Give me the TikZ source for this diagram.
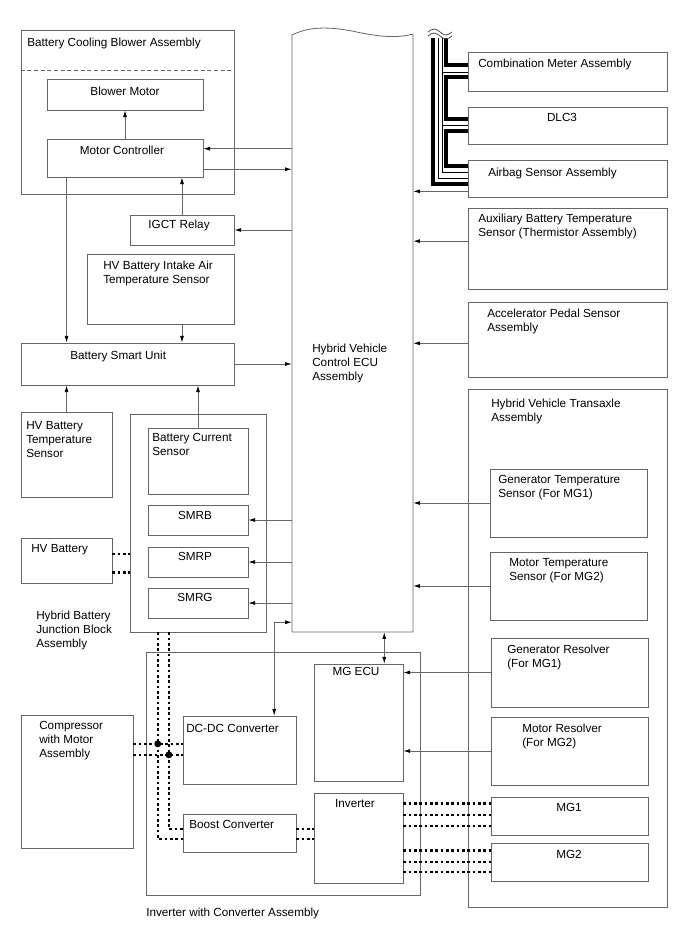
\documentclass[tikz,border=0pt]{standalone}
\usepackage{fontspec}
\setmainfont{Liberation Sans}
\usetikzlibrary{arrows.meta,calc,fit}

\tikzset{
    blk/.style={
      draw=black!60,
      line width=0.6pt,
      inner sep=0pt
    },
    lbl/.style={
      font=\fontsize{8.8}{10.5}\selectfont,
      inner sep=0pt,
      align=left,
      anchor=north west
    },
    lblc/.style={
      lbl,
      align=center,
      anchor=north
    },
    sig/.style={
      draw=black!60,
      line width=0.6pt,
      -{Latex[length=5pt,width=3pt,color=black]}
    },
    sig both/.style={
      sig,
      {Latex[length=5pt,width=3pt,color=black]}-{Latex[length=5pt,width=3pt,color=black]}
    },
    pwr/.style={
      line width=1.9pt,
      dash pattern=on 1.9pt off 2.1pt
    },
    bus thick/.style={
      line width=2.3pt
    },
    bus thin/.style={
      line width=0.6pt
    }
  }

\begin{document}
\begin{tikzpicture}[x=0.75pt,y=-0.75pt]
      \useasboundingbox (0,0) rectangle (688,949);

      % ECU 本体
      \node[fit={(292,35) (413,632)}, inner sep=0pt] (ecu) {};
      \draw[black!60, line width=0.6pt] (292,35) .. controls (310,26) and (330,27) .. (352,31)
        .. controls (375,36) and (395,39) .. (413,34) -- (413,632) -- (292,632) -- cycle;
      \node[lbl] (ecuT) at (312,343.5) {Hybrid Vehicle\\Control ECU\\Assembly};

      % 左上：ブロワ
      \node[blk, fit={(21,30) (234,194)}] (cool) {};
      \draw[black!60, line width=0.6pt, dash pattern=on 3pt off 2pt] (cool.west |- 0,70) -- (cool.east |- 0,70);
      \node[lbl] (coolT) at (27,37.5) {Battery Cooling Blower Assembly};
      \node[blk, fit={(47,79) (203,110)}] (bm) {};
      \node[lblc] (bmT) at (125,86.5) {Blower Motor};
      \node[blk, fit={(47,139) (203,177)}] (mc) {};
      \node[lblc] (mcT) at (122,145.5) {Motor Controller};
      \node[blk, fit={(130,215) (234,245)}] (igct) {};
      \node[lblc] (igctT) at (179,219.5) {IGCT Relay};
      \node[blk, fit={(87,254) (234,324)}] (intake) {};
      \node[lbl] (intakeT) at (103,260.5) {HV Battery Intake Air\\Temperature Sensor};
      \node[blk, fit={(21,343) (234,385)}] (bsu) {};
      \node[lbl] (bsuT) at (70,350.5) {Battery Smart Unit};
      \node[blk, fit={(21,412) (112,497)}] (hvts) {};
      \node[lbl] (hvtsT) at (26,421.5) {HV Battery\\Temperature\\Sensor};

      % ジャンクションブロック
      \node[blk, fit={(130,414) (266,632)}] (jb) {};
      \node[blk, fit={(148,428) (248,494)}] (bcs) {};
      \node[lbl] (bcsT) at (152,433.5) {Battery Current\\Sensor};
      \node[blk, fit={(148,505) (248,535)}] (smrb) {};
      \node[lblc] (smrbT) at (195,511.5) {SMRB};
      \node[blk, fit={(148,547) (248,577)}] (smrp) {};
      \node[lblc] (smrpT) at (195,552.5) {SMRP};
      \node[blk, fit={(148,588) (248,618)}] (smrg) {};
      \node[lblc] (smrgT) at (195,593.5) {SMRG};
      \node[blk, fit={(21,538) (112,583)}] (hvb) {};
      \node[lbl] (hvbT) at (31,544.5) {HV Battery};
      \node[lbl] (jbT) at (36,610.5) {Hybrid Battery\\Junction Block\\Assembly};

      % インバータ
      \node[blk, fit={(146,652) (420,895)}] (inva) {};
      \node[lbl] (invaT) at (146,907.5) {Inverter with Converter Assembly};
      \node[blk, fit={(314,664) (403,781)}] (mgecu) {};
      \node[lblc] (mgecuT) at (356,667.5) {MG ECU};
      \node[blk, fit={(314,793) (403,883)}] (inv) {};
      \node[lblc] (invT) at (355,799.5) {Inverter};
      \node[blk, fit={(183,716) (296,784)}] (dcdc) {};
      \node[lbl] (dcdcT) at (186,724.5) {DC-DC Converter};
      \node[blk, fit={(183,814) (296,852)}] (boost) {};
      \node[lbl] (boostT) at (189,820.5) {Boost Converter};
      \node[blk, fit={(21,715) (133,848)}] (comp) {};
      \node[lbl] (compT) at (39,721.5) {Compressor\\with Motor\\Assembly};

      % 右側
      \node[blk, fit={(468,52) (667,91)}] (cma) {};
      \node[lbl] (cmaT) at (478,58.5) {Combination Meter Assembly};
      \node[blk, fit={(468,107) (667,144)}] (dlc) {};
      \node[lblc] (dlcT) at (562,113.5) {DLC3};
      \node[blk, fit={(468,160) (667,197)}] (abg) {};
      \node[lbl] (abgT) at (488,167.5) {Airbag Sensor Assembly};
      \node[blk, fit={(468,208) (667,289)}] (aux) {};
      \node[lbl] (auxT) at (478,213.5) {Auxiliary Battery Temperature\\Sensor (Thermistor Assembly)};
      \node[blk, fit={(468,302) (667,377)}] (aps) {};
      \node[lbl] (apsT) at (487,308.5) {Accelerator Pedal Sensor\\Assembly};
      \node[blk, fit={(468,389) (667,907)}] (hvt) {};
      \node[lbl] (hvtT) at (491,398.5) {Hybrid Vehicle Transaxle\\Assembly};
      \node[blk, fit={(490,469) (647,537)}] (gts) {};
      \node[lbl] (gtsT) at (498,475.5) {Generator Temperature\\Sensor (For MG1)};
      \node[blk, fit={(490,552) (647,620)}] (mts) {};
      \node[lbl] (mtsT) at (509,558.5) {Motor Temperature\\Sensor (For MG2)};
      \node[blk, fit={(491,638) (648,707)}] (gr) {};
      \node[lbl] (grT) at (507,644.5) {Generator Resolver\\(For MG1)};
      \node[blk, fit={(491,717) (648,785)}] (mr) {};
      \node[lbl] (mrT) at (522,723.5) {Motor Resolver\\(For MG2)};
      \node[blk, fit={(491,797) (648,835)}] (mg1) {};
      \node[lblc] (mg1T) at (569,803.5) {MG1};
      \node[blk, fit={(491,843) (648,881)}] (mg2) {};
      \node[lblc] (mg2T) at (569,850.5) {MG2};

      % 信号線の端点
      \coordinate (mc in) at ($(mc.north east)!0.26!(mc.south east)$);
      \coordinate (mc out) at ($(mc.north east)!0.79!(mc.south east)$);
      \coordinate (abg p) at ($(abg.north west)!0.84!(abg.south west)$);
      \coordinate (aux p) at ($(aux.north west)!0.41!(aux.south west)$);
      \coordinate (aps p) at ($(aps.north west)!0.55!(aps.south west)$);
      \coordinate (mgecu p) at ($(mgecu.north west)!0.787!(mgecu.north east)$);
      \coordinate (dcdc p) at ($(dcdc.north west)!0.805!(dcdc.north east)$);
      \coordinate (ecu low) at ([yshift=7.5pt]ecu.south west);

      % 信号線
      \draw[sig] (mc in -| ecu.west) -- (mc in);
      \draw[sig] (mc out) -- (mc out -| ecu.west);
      \draw[sig] (igct.east -| ecu.west) -- (igct.east);
      \draw[sig] (bsu.east) -- (bsu.east -| ecu.west);
      \draw[sig] (smrb.east -| ecu.west) -- (smrb.east);
      \draw[sig] (smrp.east -| ecu.west) -- (smrp.east);
      \draw[sig] (smrg.east -| ecu.west) -- (smrg.east);
      \draw[sig] (abg p) -- (abg p -| ecu.east);
      \draw[sig] (aux p) -- (aux p -| ecu.east);
      \draw[sig] (aps p) -- (aps p -| ecu.east);
      \draw[sig] (gts.west) -- (gts.west -| ecu.east);
      \draw[sig] (mts.west) -- (mts.west -| ecu.east);
      \draw[sig] (gr.west) -- (gr.west -| mgecu.east);
      \draw[sig] (mr.west) -- (mr.west -| mgecu.east);
      \draw[sig] (mc.north) -- (bm.south);
      \draw[sig] (igct.north) -- (igct.north |- mc.south);
      \draw[sig] (mc.south -| hvts.north) -- (bsu.north -| hvts.north);
      \draw[sig] (intake.south -| igct.north) -- (bsu.north -| igct.north);
      \draw[sig] (hvts.north) -- (hvts.north |- bsu.south);
      \draw[sig] (bcs.north) -- (bcs.north |- bsu.south);
      \draw[sig both] (mgecu p) -- (mgecu p |- ecu.south);
      \draw[sig both] (dcdc p) |- (ecu low);

      % 高電圧線の端点
      \coordinate (hvb p1) at ($(hvb.north east)!0.36!(hvb.south east)$);
      \coordinate (hvb p2) at ($(hvb.north east)!0.76!(hvb.south east)$);
      \coordinate (jb d1) at ($(jb.south west)!0.206!(jb.south east)$);
      \coordinate (jb d2) at ($(jb.south west)!0.287!(jb.south east)$);
      \coordinate (bst p1) at ($(boost.north west)!0.40!(boost.south west)$);
      \coordinate (bst p2) at ($(boost.north west)!0.65!(boost.south west)$);
      \coordinate (dc p1) at ($(dcdc.north west)!0.41!(dcdc.south west)$);
      \coordinate (dc p2) at ($(dcdc.north west)!0.57!(dcdc.south west)$);
      \coordinate (mg1 p1) at ($(mg1.north west)!0.18!(mg1.south west)$);
      \coordinate (mg1 p2) at ($(mg1.north west)!0.47!(mg1.south west)$);
      \coordinate (mg1 p3) at ($(mg1.north west)!0.76!(mg1.south west)$);
      \coordinate (mg2 p1) at ($(mg2.north west)!0.21!(mg2.south west)$);
      \coordinate (mg2 p2) at ($(mg2.north west)!0.50!(mg2.south west)$);
      \coordinate (mg2 p3) at ($(mg2.north west)!0.76!(mg2.south west)$);

      % 高電圧線
      \draw[pwr] (hvb p1) -- (hvb p1 -| jb.west);
      \draw[pwr] (hvb p2) -- (hvb p2 -| jb.west);
      \draw[pwr] (jb d1) |- (bst p2);
      \draw[pwr] (jb d2) |- (bst p1);
      \draw[pwr] (dc p1 -| comp.east) -- (dc p1);
      \draw[pwr] (dc p2 -| comp.east) -- (dc p2);
      \fill (dc p1 -| jb d1) circle (2.6pt);
      \fill (dc p2 -| jb d2) circle (2.6pt);
      \draw[pwr] (bst p1 -| boost.east) -- (bst p1 -| inv.west);
      \draw[pwr] (bst p2 -| boost.east) -- (bst p2 -| inv.west);
      \draw[pwr] (mg1 p1 -| inv.east) -- (mg1 p1);
      \draw[pwr] (mg1 p2 -| inv.east) -- (mg1 p2);
      \draw[pwr] (mg1 p3 -| inv.east) -- (mg1 p3);
      \draw[pwr] (mg2 p1 -| inv.east) -- (mg2 p1);
      \draw[pwr] (mg2 p2 -| inv.east) -- (mg2 p2);
      \draw[pwr] (mg2 p3 -| inv.east) -- (mg2 p3);

      % 通信線（バス）
      \draw[bus thick] (433,38) |- (468,184);
      \draw[bus thin] (438,38) |- (468,178);
      \draw[bus thin] (442,38) |- (468,172);
      \draw[bus thin] (442,72) -- (468,72);
      \draw[bus thin] (442,125) -- (468,125);
      \draw[bus thick] (446,38) |- (468,65);
      \draw[bus thick] (468,77) -| (446,119) -- (468,119);
      \draw[bus thick] (468,131) -| (446,166) -- (468,166);

      % 切断マーク
      \draw[white, line width=3pt] (427,34) -- (453,34);
      \draw[black!70, line width=0.6pt] (428,32) sin (434,29) cos (440,32) sin (446,35) cos (452,32);
      \draw[black!70, line width=0.6pt] (428,36) sin (434,33) cos (440,36) sin (446,39) cos (452,36);
    \end{tikzpicture}
\end{document}
